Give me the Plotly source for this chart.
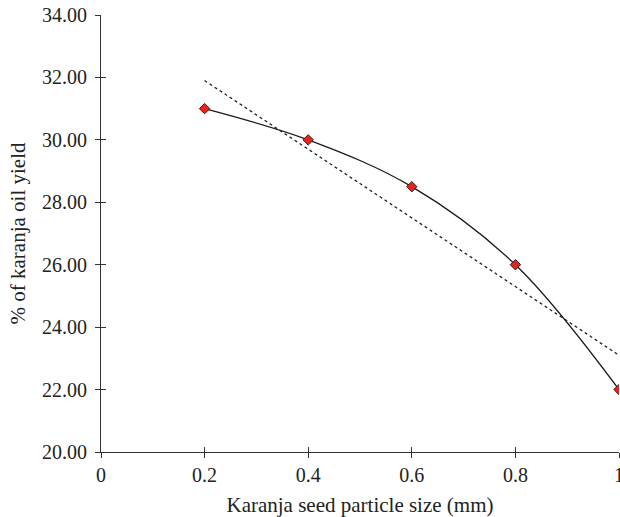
import numpy as np
import plotly.graph_objects as go

particle_size = [0.2, 0.4, 0.6, 0.8, 1.0]
oil_yield = [31.0, 30.0, 28.5, 26.0, 22.0]
x_tick_vals = [0, 0.2, 0.4, 0.6, 0.8, 1.0]
x_tick_text = ["0", "0.2", "0.4", "0.6", "0.8", "1"]
y_tick_vals = [20, 22, 24, 26, 28, 30, 32, 34]

# linear trendline (least squares, as in the original chart)
slope, intercept = np.polyfit(particle_size, oil_yield, 1)
trend_x = [particle_size[0], particle_size[-1]]
trend_y = [slope * v + intercept for v in trend_x]

FONT = "Liberation Serif, serif"
AX = "#333333"

fig = go.Figure()
fig.add_trace(go.Scatter(x=trend_x, y=trend_y, mode="lines",
                         line=dict(color="#222222", width=1.3, dash="dot"),
                         showlegend=False, hoverinfo="skip"))
fig.add_trace(go.Scatter(x=particle_size, y=oil_yield, mode="lines+markers",
                         line=dict(color="#1a1a1a", width=1.3, shape="spline", smoothing=1),
                         marker=dict(symbol="diamond", size=8, color="#e8231e",
                                     line=dict(color="#3a1a1a", width=1)),
                         showlegend=False))

common = dict(showgrid=False, zeroline=False, showline=True, linecolor=AX, linewidth=1.2,
              tickcolor=AX, tickwidth=1.2, automargin=False)

fig.update_layout(
    width=620, height=517,
    margin=dict(l=101, r=1, t=15, b=65),
    plot_bgcolor="white", paper_bgcolor="white",
    font=dict(family=FONT, size=20, color="#222222"),
    xaxis=dict(range=[0, 1], tickvals=x_tick_vals, ticktext=x_tick_text,
               ticks="outside", ticklen=5, ticklabeloverflow="allow",
               tickfont=dict(size=20),
               title=dict(text="Karanja seed particle size (mm)", standoff=12,
                          font=dict(size=21)), **common),
    yaxis=dict(range=[20, 34], tickvals=y_tick_vals, tickformat=".2f",
               ticks="outside", ticklen=5, ticklabelstandoff=4,
               tickfont=dict(size=20),
               title=dict(text="% of karanja oil yield", standoff=10,
                          font=dict(size=21)), **common),
    xaxis2=dict(range=[0, 1], tickvals=x_tick_vals, overlaying="x", side="bottom",
                ticks="inside", ticklen=5, showticklabels=False, anchor="y",
                showgrid=False, zeroline=False, showline=False, tickcolor=AX, tickwidth=1.2),
    yaxis2=dict(range=[20, 34], tickvals=y_tick_vals, overlaying="y", side="left",
                ticks="inside", ticklen=5, showticklabels=False, anchor="x",
                showgrid=False, zeroline=False, showline=False, tickcolor=AX, tickwidth=1.2),
)
# invisible trace to activate the overlay axes for crossing tick marks
fig.add_trace(go.Scatter(x=[0], y=[20], xaxis="x2", yaxis="y2", mode="markers",
                         marker=dict(opacity=0), showlegend=False, hoverinfo="skip"))

fig.write_html("out.html")
